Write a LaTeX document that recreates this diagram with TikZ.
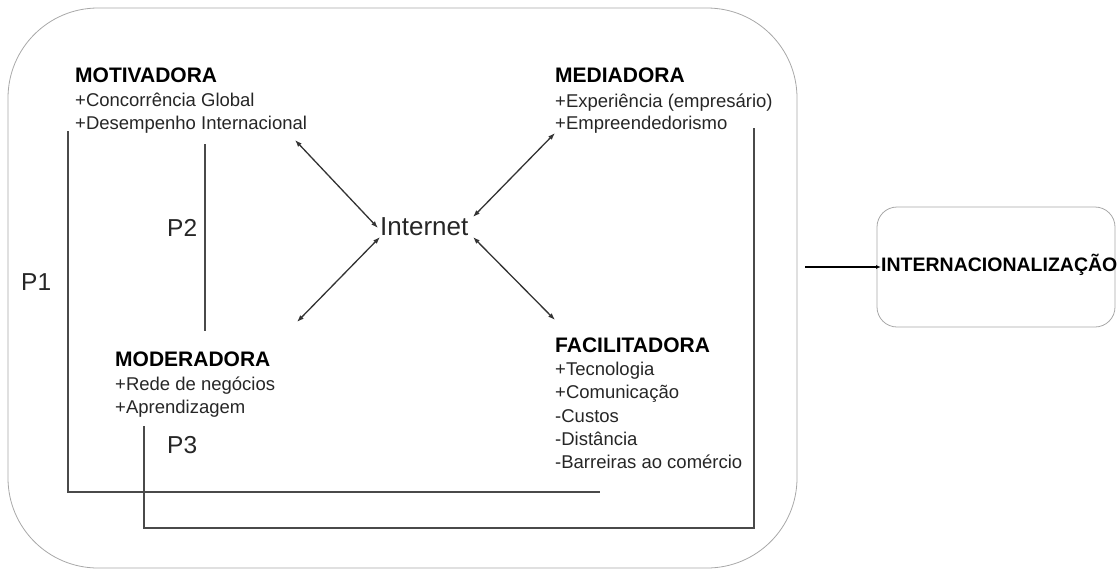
\documentclass[tikz,border=0pt]{standalone}
\usepackage{fontspec}
\setmainfont{Liberation Sans}
\usetikzlibrary{arrows.meta}
\definecolor{framegray}{HTML}{A8A8A8}
\definecolor{linegray}{HTML}{4A4A4A}
\definecolor{arrowgray}{HTML}{333333}
\definecolor{txt}{HTML}{262626}
\begin{document}
\begin{tikzpicture}[x=1pt,y=-1pt,
  frame/.style={draw=framegray,line width=0.8pt},
  head/.style={anchor=base west,inner sep=0pt,font=\fontsize{21}{24}\selectfont\bfseries,text=black},
  item/.style={anchor=base west,inner sep=0pt,font=\fontsize{18.5}{22}\selectfont,text=txt},
  plabel/.style={anchor=base west,inner sep=0pt,font=\fontsize{24.5}{28}\selectfont,text=txt},
  path line/.style={draw=linegray,line width=1.6pt},
  link/.style={draw=arrowgray,line width=1.3pt,{Latex[length=7pt,width=5pt]}-{Latex[length=7pt,width=5pt]}},
]
\useasboundingbox (0,0) rectangle (1119,571);

% outer frame and result box
\draw[frame,rounded corners=90pt] (8,8) rectangle (797,568);
\draw[frame,rounded corners=20pt] (877,207) rectangle (1115,327);

% MOTIVADORA
\node[head] (mot) at (75,82) {MOTIVADORA};
\node[item] (mot1) at (75,106) {+Concorrência Global};
\node[item] (mot2) at (75,129) {+Desempenho Internacional};

% MEDIADORA
\node[head] (med) at (555,82) {MEDIADORA};
\node[item] (med1) at (555,107) {+Experiência (empresário)};
\node[item] (med2) at (555,129) {+Empreendedorismo};

% MODERADORA
\node[head] (mod) at (115,366) {MODERADORA};
\node[item] (mod1) at (115,390) {+Rede de negócios};
\node[item] (mod2) at (115,413) {+Aprendizagem};

% FACILITADORA
\node[head] (fac) at (555,352) {FACILITADORA};
\node[item] (fac1) at (555,375) {+Tecnologia};
\node[item] (fac2) at (555,398) {+Comunicação};
\node[item] (fac3) at (555,422) {-Custos};
\node[item] (fac4) at (555,445) {-Distância};
\node[item] (fac5) at (555,468) {-Barreiras ao comércio};

% centre
\node[anchor=base west,inner sep=0pt,font=\fontsize{26}{30}\selectfont,text=txt] (inet) at (380,235) {Internet};

% result
\node[anchor=base west,inner sep=0pt,font=\fontsize{19.5}{22}\selectfont\bfseries,text=black] (intl) at (881,271) {INTERNACIONALIZAÇÃO};

% propositions
\node[plabel] (p1) at (21,290) {P1};
\node[plabel] (p2) at (167,236) {P2};
\node[plabel] (p3) at (167,453) {P3};

% connector ends
\coordinate (iNW) at (378,228);
\coordinate (iNE) at (473,217);
\coordinate (iSW) at (380,237);
\coordinate (iSE) at (473,237);
\coordinate (tMot) at (295,140);
\coordinate (tMed) at (555,133);
\coordinate (tMod) at (297,322);
\coordinate (tFac) at (555,320);

\draw[link] (tMot) -- (iNW);
\draw[link] (tMed) -- (iNE);
\draw[link] (tMod) -- (iSW);
\draw[link] (tFac) -- (iSE);

% P1, P2, P3 paths
\coordinate (p1a) at (68,131);
\coordinate (p1b) at (68,492);
\coordinate (p1c) at (600,492);
\draw[path line] (p1a) -- (p1b) -- (p1c);

\coordinate (p2a) at (205,144);
\coordinate (p2b) at (205,331);
\draw[path line] (p2a) -- (p2b);

\coordinate (p3a) at (144,426);
\coordinate (p3b) at (144,528);
\coordinate (p3c) at (754,528);
\coordinate (p3d) at (754,128);
\draw[path line] (p3a) -- (p3b) -- (p3c) -- (p3d);

% arrow into the result box
\coordinate (rIn) at (805,267);
\draw[draw=black,line width=1.1pt,-{Latex[length=5pt,width=4pt]}] (rIn) -- (intl.west |- rIn);
\end{tikzpicture}
\end{document}
